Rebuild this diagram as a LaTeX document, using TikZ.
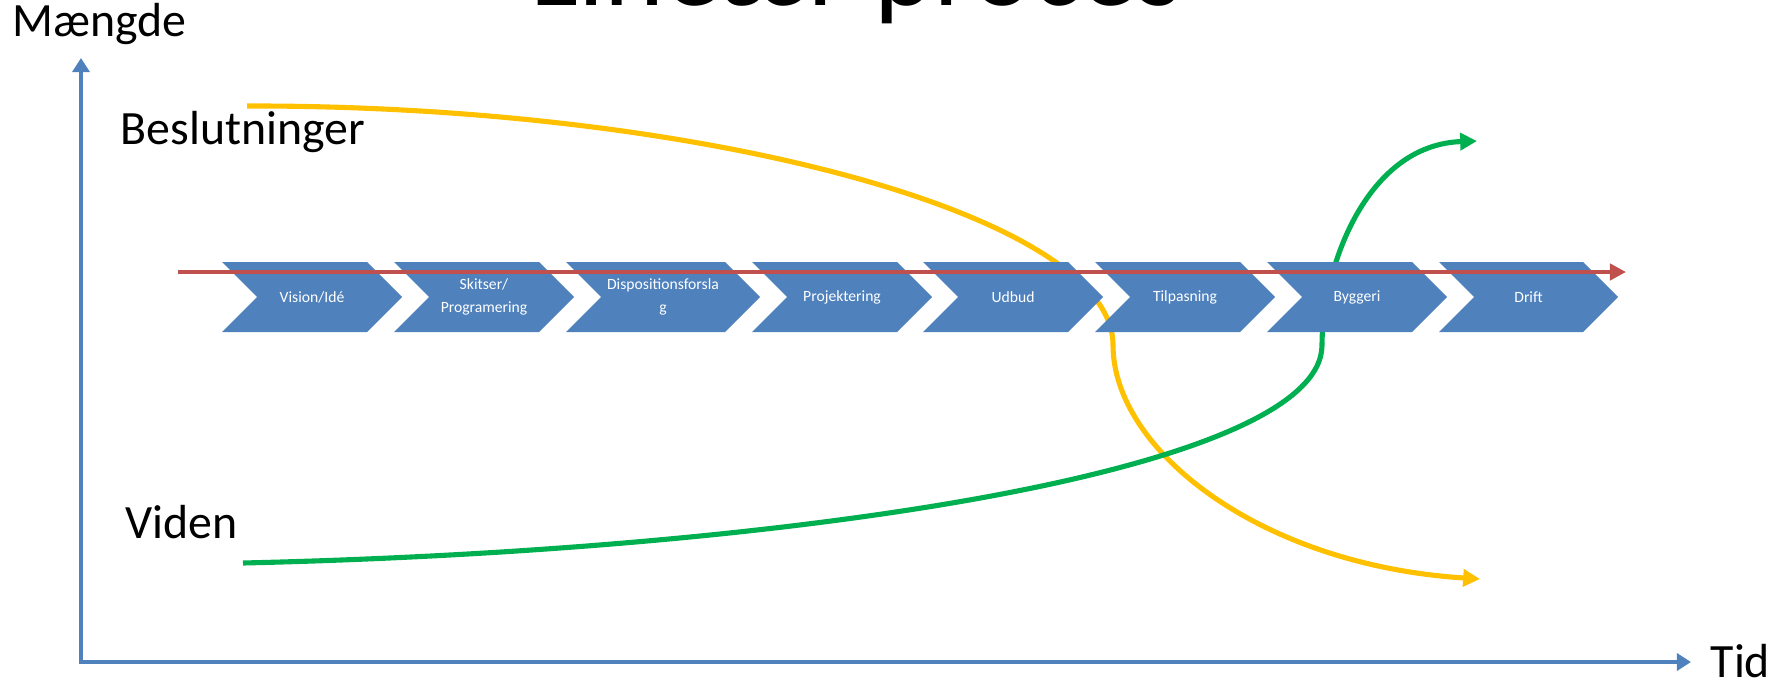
\documentclass[tikz,border=0pt]{standalone}
\usepackage{fontspec}
\setmainfont{Carlito}
\usetikzlibrary{arrows.meta}
\definecolor{chevblue}{HTML}{4F81BD}
\definecolor{timered}{HTML}{C0504D}
\definecolor{vidgreen}{HTML}{00B050}
\definecolor{beslyellow}{HTML}{FFC000}

\begin{document}
\begin{tikzpicture}[
  x=0.01cm, y=-0.01cm,
  axis/.style={draw=chevblue, line width=1.15pt, {Triangle[length=4pt, width=4.8pt]}-{Triangle[length=4pt, width=4.8pt]}},
  curve/.style={line width=1.45pt, -{Triangle[length=4.8pt, width=4.8pt]}},
  phase/.style={text=white, font=\fontsize{4.45}{6.6}\selectfont, align=center, inner sep=0pt},
  axlbl/.style={anchor=base west, inner sep=0pt, font=\fontsize{13.6}{16}\selectfont}
]
\useasboundingbox (0,0) rectangle (1783,682);

% title, cut by the page edge
\node[anchor=base, font=\fontsize{32.4}{38}\selectfont] (title) at (856,6) {Lineær proces};

% axes
\coordinate (origin) at (81,662);
\coordinate (ytop) at (81,58);
\coordinate (xend) at (1691,662);
\draw[axis] (ytop) -- (origin) -- (xend);

% curves, behind the phases
\coordinate (beslStart) at (247,106);
\coordinate (beslTurn) at (1113,345);
\coordinate (beslEnd) at (1480,579);
\draw[curve, beslyellow] (beslStart) .. controls (700,105) and (1113,215) .. (beslTurn)
  .. controls (1113,450) and (1260,565) .. (beslEnd);

\coordinate (vidStart) at (243,563);
\coordinate (vidTurn) at (1322,345);
\coordinate (vidEnd) at (1477,141);
\draw[curve, vidgreen] (vidStart) .. controls (800,550) and (1322,470) .. (vidTurn)
  .. controls (1322,270) and (1365,145) .. (vidEnd);

% phases
\foreach \s/\w/\nm/\t in {222/180/vision/{Vision/Idé},
    394/180/skitser/{Skitser/\\Programering},
    566/194/dispo/{Dispositionsforsla\\g},
    752/180/projekt/{Projektering},
    923/180/udbud/{Udbud},
    1095/180/tilpas/{Tilpasning},
    1267/180/byggeri/{Byggeri},
    1439/179/drift/{Drift}}
{
  \fill[chevblue] (\s,262) -- ++(\w-35,0) -- ++(35,35) -- ++(-35,35) -- (\s,332) -- ++(35,-35) -- cycle;
  \node[phase] (\nm) at (\s+\w/2,297) {\t};
}

% time line
\coordinate (timeStart) at (178,272);
\coordinate (timeEnd) at (1626,272);
\draw[timered, line width=1.35pt, -{Triangle[length=4.6pt, width=4.6pt]}] (timeStart) -- (timeEnd);

\node[axlbl] (maengde) at (12,37) {Mængde};
\node[axlbl] (beslut) at (120,145) {Beslutninger};
\node[axlbl] (viden) at (125,538) {Viden};
\node[axlbl] (tid) at (1710,677) {Tid};
\end{tikzpicture}
\end{document}
